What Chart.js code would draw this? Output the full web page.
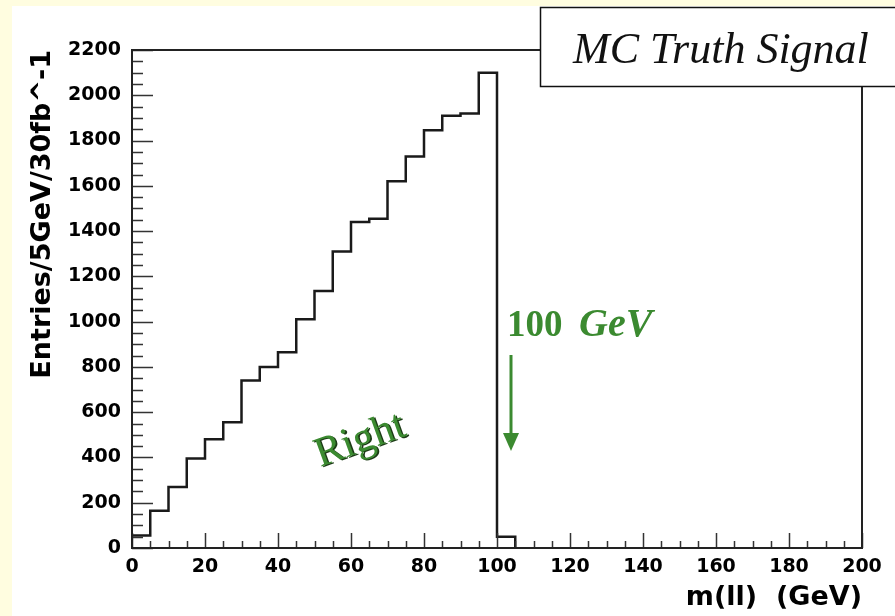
<!DOCTYPE html>
<html>
<head>
<meta charset="utf-8">
<script src="https://cdn.jsdelivr.net/npm/chart.js@4/dist/chart.umd.min.js"></script>
<style>
  html, body { margin: 0; padding: 0; background: #fffde0; }
  #wrap { width: 895px; height: 616px; position: relative; }
</style>
</head>
<body>
<div id="wrap"><canvas id="histChart" width="895" height="616"></canvas></div>
<script>
// m(ll) histogram, 5 GeV bins (lower edges)
const binLow = [0, 5, 10, 15, 20, 25, 30, 35, 40, 45, 50, 55, 60, 65, 70, 75, 80, 85, 90, 95, 100];
const entries = [55, 165, 270, 395, 480, 555, 740, 800, 865, 1010, 1135, 1310, 1440, 1455, 1620, 1730, 1845, 1910, 1920, 2100, 50];
const histEnd = 105;

const xTitle = 'm(ll)  (GeV)';
const yTitle = 'Entries/5GeV/30fb^-1';
const boxLabel = 'MC Truth Signal';
const massLabel = '100';
const massUnit = 'GeV';
const massValue = 100;
const curveLabel = 'Right';

const green = '#3b8a30';

const points = binLow.map((x, i) => ({ x: x, y: entries[i] }));
points.push({ x: histEnd, y: 0 });

// ROOT style frame, inner ticks and the annotations
const rootStyle = {
  id: 'rootStyle',
  beforeDraw(chart) {
    const ctx = chart.ctx;
    ctx.save();
    ctx.fillStyle = '#fffde0';
    ctx.fillRect(0, 0, chart.width, chart.height);
    ctx.fillStyle = '#ffffff';
    ctx.fillRect(12, 6, chart.width - 12, chart.height - 6);
    ctx.restore();
  },
  afterDraw(chart) {
    const ctx = chart.ctx;
    const a = chart.chartArea;
    const xs = chart.scales.x, ys = chart.scales.y;
    ctx.save();

    // ticks
    ctx.strokeStyle = '#333';
    ctx.lineWidth = 1.5;
    ctx.beginPath();
    for (let v = 0; v <= 2200; v += 50) {
      const py = Math.round(ys.getPixelForValue(v)) + 0.5;
      const len = v % 200 === 0 ? 21 : 11;
      ctx.moveTo(a.left, py);
      ctx.lineTo(a.left + len, py);
    }
    for (let v = 0; v <= 200; v += 5) {
      const px = Math.round(xs.getPixelForValue(v)) + 0.5;
      const len = v % 20 === 0 ? 15 : 7;
      ctx.moveTo(px, a.bottom);
      ctx.lineTo(px, a.bottom - len);
    }
    ctx.stroke();

    // frame
    ctx.strokeStyle = '#222';
    ctx.lineWidth = 2;
    ctx.strokeRect(a.left, a.top, a.right - a.left, a.bottom - a.top);

    // title box
    ctx.fillStyle = '#fff';
    ctx.fillRect(540, 7, 360, 80);
    ctx.strokeStyle = '#111';
    ctx.lineWidth = 1.5;
    ctx.strokeRect(540.5, 7.5, 360, 79);
    ctx.fillStyle = '#111';
    ctx.font = 'italic 44px "Liberation Serif", serif';
    ctx.textBaseline = 'alphabetic';
    ctx.textAlign = 'left';
    ctx.fillText(boxLabel, 573, 63);

    // 100 GeV marker
    const mx = xs.getPixelForValue(massValue);
    ctx.fillStyle = green;
    ctx.font = 'bold 37px "Liberation Serif", serif';
    ctx.fillText(massLabel, mx + 10, 336);
    ctx.font = 'bold italic 40px "Liberation Serif", serif';
    ctx.fillText(massUnit, mx + 82, 336);
    const ax = mx + 14;
    ctx.strokeStyle = green;
    ctx.lineWidth = 3;
    ctx.beginPath();
    ctx.moveTo(ax, 355);
    ctx.lineTo(ax, 436);
    ctx.stroke();
    ctx.beginPath();
    ctx.moveTo(ax - 8, 433);
    ctx.lineTo(ax + 8, 433);
    ctx.lineTo(ax, 451);
    ctx.closePath();
    ctx.fill();

    // curve label
    ctx.translate(364, 451);
    ctx.rotate(-20 * Math.PI / 180);
    ctx.font = '42px "Liberation Serif", serif';
    ctx.textAlign = 'center';
    ctx.fillStyle = '#1c3a16';
    ctx.fillText(curveLabel, 1.5, 1.5);
    ctx.fillStyle = green;
    ctx.fillText(curveLabel, 0, 0);
    ctx.restore();
  }
};

const tickFont = { family: "'DejaVu Sans', sans-serif", size: 19, weight: 'bold' };
const titleFont = { family: "'DejaVu Sans', sans-serif", size: 27, weight: 'bold' };

new Chart(document.getElementById('histChart'), {
  type: 'line',
  data: {
    datasets: [{
      data: points,
      stepped: 'before',
      borderColor: '#1a1a1a',
      borderWidth: 2.5,
      pointRadius: 0,
      fill: false,
      clip: false
    }]
  },
  options: {
    responsive: false,
    animation: false,
    events: [],
    layout: { padding: { top: 50, right: 33, left: 0, bottom: 0 } },
    plugins: { legend: { display: false }, tooltip: { enabled: false } },
    scales: {
      x: {
        type: 'linear',
        min: 0,
        max: 200,
        grid: { display: false },
        border: { display: false },
        ticks: { stepSize: 20, color: '#000', font: tickFont, padding: 0, maxRotation: 0, callback: v => String(v) },
        title: { display: true, text: xTitle, align: 'end', color: '#000', font: titleFont, padding: { top: 0, bottom: 2 } },
        afterFit: s => { s.height = 68; }
      },
      y: {
        min: 0,
        max: 2200,
        grid: { display: false },
        border: { display: false },
        ticks: { stepSize: 200, color: '#000', font: tickFont, padding: 3, callback: v => String(v) },
        title: { display: true, text: yTitle, align: 'end', color: '#000', font: titleFont, padding: { top: 27, bottom: 0 } },
        afterFit: s => { s.width = 132; }
      }
    }
  },
  plugins: [rootStyle]
});
</script>
</body>
</html>
